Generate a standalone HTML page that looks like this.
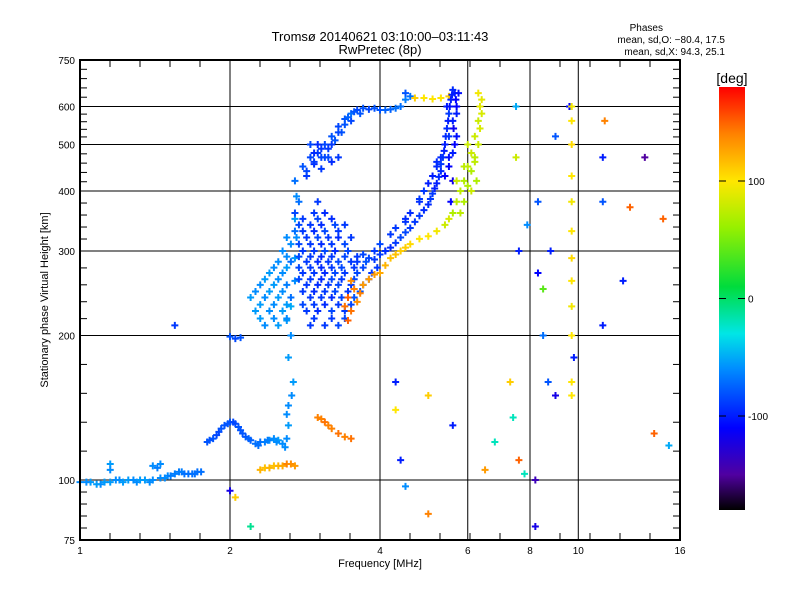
<!DOCTYPE html>
<html><head><meta charset="utf-8"><style>
body{margin:0;background:#fff;}
svg{display:block;font-family:"Liberation Sans","DejaVu Sans",sans-serif;}
</style></head><body>
<svg id="chart" width="800" height="600" viewBox="0 0 800 600">
<rect width="800" height="600" fill="#fff"/>
<text x="380" y="41" font-size="13" text-anchor="middle">Tromsø 20140621 03:10:00–03:11:43</text>
<text x="380" y="54" font-size="13" text-anchor="middle">RwPretec (8p)</text>
<text x="663" y="31" font-size="10" text-anchor="end">Phases</text>
<text x="725" y="43" font-size="10" text-anchor="end">mean, sd,O: −80.4, 17.5</text>
<text x="725" y="55" font-size="10" text-anchor="end">mean, sd,X:  94.3, 25.1</text>
<text transform="translate(48,300) rotate(-90)" font-size="11" text-anchor="middle">Stationary phase Virtual Height [km]</text>
<text x="380" y="567" font-size="11" text-anchor="middle">Frequency [MHz]</text>
<text x="732" y="83" font-size="14" text-anchor="middle">[deg]</text>
<g id="grid"></g><g id="marks"></g><g id="axes"></g><g id="cbar"></g>
</svg>
<script>
// ---- data ----
const xTicks=[1,2,4,6,8,10,16];
const xTickLabels=["1","2","4","6","8","10","16"];
const yTicks=[75,100,200,300,400,500,600,750];
const yGrid=[100,200,300,400,500,600];
const cbTicks=[100,0,-100];

const lowFreq=[1.0,1.05,1.1,1.15,1.2,1.25,1.3,1.35,1.4,1.45,1.5,1.55,1.6,1.65,1.7,1.75,1.15,1.15,1.4,1.43,1.45,1.03,1.08,1.12,1.18,1.22,1.28,1.32,1.38,1.48,1.52,1.58,1.62,1.68,1.72];
const lowHeight=[99,99,98,99,100,100,99,100,100,101,102,103,104,103,103,104,108,105,107,106,108,99,98,99,100,99,100,100,99,101,102,104,103,103,104];
const lowPhase=[-60,-55,-60,-55,-60,-55,-60,-55,-60,-60,-60,-65,-65,-70,-70,-70,-55,-60,-60,-65,-60,-60,-55,-55,-60,-55,-60,-55,-60,-60,-65,-65,-70,-70,-70];

const midFreq=[1.8,1.85,1.9,1.95,2.0,2.05,2.1,2.15,2.2,2.25,2.3,2.35,2.4,2.45,2.5,2.55,2.6,2.62,2.6,2.62,2.0,2.05,2.1,1.82,1.88,1.92,1.98,2.03,2.08,2.12,2.18,2.28,2.38,2.48,2.58];
const midHeight=[120,122,126,130,132,131,127,123,121,119,120,120,121,122,121,119,122,130,137,143,199,197,198,121,124,128,131,132,129,125,122,118,121,120,117];
const midPhase=[-80,-80,-85,-80,-80,-85,-80,-80,-75,-70,-70,-65,-60,-60,-55,-60,-60,-55,-60,-60,-80,-85,-80,-80,-85,-80,-80,-85,-80,-80,-75,-70,-65,-60,-60];

const orFreq=[2.3,2.35,2.4,2.45,2.5,2.55,2.6,2.65,2.7,3.0,3.05,3.1,3.15,3.2,3.3,3.4,3.5];
const orHeight=[105,106,106,107,107,107,108,108,107,135,134,132,130,128,125,123,122];
const orPhase=[120,115,120,115,120,125,140,135,130,140,140,145,140,140,145,140,145];

const colFreq=[2.62,2.65,2.6,2.65,2.7,2.7,2.72,2.7,2.72,2.7,2.68,2.66];
const colHeight=[180,200,215,230,260,290,320,350,390,420,160,150];
const colPhase=[-55,-60,-55,-50,-60,-55,-60,-55,-60,-70,-55,-60];

const blobFreq=[2.35,2.5,2.9,3.1,3.3, 2.25,2.4,2.55,2.85,3.0,3.2,3.4, 2.2,2.35,2.5,2.65,2.9,3.05,3.2,3.35,3.55, 2.3,2.45,2.6,2.85,3.0,3.15,3.3,3.5,3.7, 2.4,2.55,2.8,2.95,3.1,3.25,3.4,3.6,3.85, 2.5,2.65,2.85,3.0,3.15,3.3,3.5,3.75, 2.55,2.8,2.95,3.1,3.25,3.45, 2.6,2.85,3.0,3.15,3.3,3.5, 2.75,2.9,3.05,3.25,3.4, 2.7,2.95,3.1, 2.75,3.0];
const blobHeight=[210,210,210,210,210, 225,225,225,225,225,225,225, 240,240,240,240,240,240,240,240,240, 255,255,255,255,255,255,255,255,255, 270,270,270,270,270,270,270,270,270, 285,285,285,285,285,285,285,285, 300,300,300,300,300,300, 320,320,320,320,320,320, 340,340,340,340,340, 360,360,360, 380,380];
const blobPhase=[-60,-55,-90,-90,-85, -55,-60,-55,-90,-95,-85,-90, -55,-60,-55,-70,-90,-90,-95,-85,-80, -60,-55,-65,-90,-95,-90,-85,-90,-95, -55,-60,-90,-90,-95,-85,-90,-85,-90, -60,-70,-90,-95,-90,-85,-90,-80, -60,-90,-90,-85,-95,-85, -60,-90,-85,-90,-95,-90, -85,-90,-95,-85,-90, -85,-90,-95, -70,-90];

const blob2Freq=[2.3,2.45,2.6,2.95,3.2,3.4, 2.3,2.45,2.6,2.8,2.95,3.1,3.3,3.5, 2.25,2.4,2.55,2.8,2.95,3.1,3.25,3.45,3.65, 2.35,2.5,2.75,2.9,3.05,3.2,3.35,3.55,3.8, 2.45,2.6,2.75,2.9,3.05,3.2,3.35,3.55,3.7,3.95, 2.6,2.75,2.9,3.05,3.2,3.4,3.6, 2.65,2.75,2.9,3.05,3.2,3.4, 2.7,2.8,2.95,3.1,3.3, 2.8,3.0,3.2];
const blob2Height=[217,217,217,217,217,217, 232,232,232,232,232,232,232,232, 247,247,247,247,247,247,247,247,247, 262,262,262,262,262,262,262,262,262, 277,277,277,277,277,277,277,277,277,277, 292,292,292,292,292,292,292, 310,310,310,310,310,310, 330,330,330,330,330, 350,350,350];
const blob2Phase=[-55,-60,-60,-90,-90,-85, -55,-60,-55,-85,-90,-95,-90,-85, -60,-55,-60,-90,-95,-90,-85,-90,-80, -55,-60,-85,-90,-95,-85,-90,-85,-90, -60,-55,-85,-90,-95,-90,-85,-90,-85,-90, -60,-85,-90,-95,-90,-85,-90, -60,-85,-90,-95,-90,-85, -70,-90,-95,-85,-90, -90,-85,-95];

const upFreq=[2.8,2.9,3.0,3.1,3.2,3.3,3.4,3.5,3.6,3.7,3.8,4.0,4.2,4.4,4.5,4.6,4.5, 2.85,2.95,3.05,3.2,3.35,3.5,3.65, 2.95,3.05,3.15, 4.7,4.9,5.1,5.3,5.5, 2.85,2.95,3.0,3.1,3.15,3.25,3.3,3.4,3.45,3.55,3.9,4.1,4.3,3.2,3.3,2.9,3.05];
const upHeight=[450,470,480,500,520,545,565,580,590,595,592,590,592,600,620,630,640, 430,455,470,500,530,560,580, 480,490,470, 625,625,622,625,630, 440,460,500,470,490,510,530,550,570,585,595,590,595,460,470,500,445];
const upPhase=[-80,-85,-90,-85,-80,-85,-80,-70,-85,-80,-85,-80,-75,-70,-65,-70,-80, -90,-95,-85,-90,-80,-85,-80, -95,-90,-85, 110,100,100,100,110, -85,-90,-95,-85,-90,-80,-85,-80,-75,-80,-80,-75,-70,-95,-90,-85,-90];

const bandFreq=[3.6,3.8,4.0,4.2,4.4,4.6,4.8,5.0,5.1,5.2,5.3,5.35,5.4,5.45,5.5,5.55,5.6, 4.0,4.3,4.6,4.9,5.1,5.3,5.5,5.6,5.7,5.65,5.5,5.6,5.7, 3.9,4.1,4.5,4.8,5.2,5.45,5.6,5.55, 3.7,3.9,4.1,4.3,4.5,4.7,4.9,5.05,5.15,5.25,5.3,5.38,5.42,5.48,5.52,5.58,4.2,4.5,4.8,5.0,5.2,5.4,5.5,5.65,5.7,5.62,5.75,5.68];
const bandHeight=[285,290,295,305,320,335,355,375,395,415,440,470,500,540,580,620,650, 310,335,360,400,430,470,520,560,600,640,450,480,520, 300,300,345,380,460,600,420,380, 295,288,300,312,328,345,365,385,405,428,455,485,520,560,600,635,325,350,385,415,450,430,470,500,580,540,640,620];
const bandPhase=[-90,-85,-90,-95,-85,-90,-90,-95,-90,-100,-95,-90,-100,-95,-90,-100,-95, -85,-90,-95,-90,-100,-95,-90,-100,-110,-100,-110,-100,-105, -90,-85,-90,-95,-95,-100,-120,-110, -85,-90,-95,-90,-85,-90,-95,-90,-100,-95,-90,-100,-95,-100,-105,-100,-90,-95,-90,-100,-95,-110,-105,-110,-100,-115,-105,-110];

const yelFreq=[3.45,3.5,3.45,3.55,3.6,3.7,3.8,3.9,4.0,4.1,4.2,4.4,4.6,4.8,5.0,5.2,5.4,5.6,5.7,5.8,5.9,6.0,6.1,6.2,6.3,6.35,6.3,5.9,5.7,6.1,6.0,6.2,6.25, 5.9,6.0,6.1,6.2,6.3,6.35,6.4,6.4,5.8,5.5,4.5,4.3,3.65,3.5,3.4];
const yelHeight=[215,225,240,250,235,255,262,268,270,280,290,300,310,318,322,330,340,360,380,400,420,450,480,520,560,600,640,380,420,440,500,470,420, 450,410,400,460,500,540,580,620,360,350,305,295,245,260,230];
const yelPhase=[150,145,150,140,135,130,130,130,125,120,115,110,105,100,100,95,80,70,75,75,70,75,80,80,80,90,95,70,80,70,80,75,70, 75,70,80,75,80,85,85,90,75,85,110,115,140,135,145];

const noiseFreq=[1.55,2.0,2.05,2.2,4.3,4.3,4.4,4.5,5.0,5.0,5.6,6.5,6.8,7.3,7.4,7.6,7.8,8.2,8.2,8.5,8.5,8.8,9.0,9.6,9.8,11.2,11.2,11.3,11.2,12.3,12.7,13.6,14.2,14.8,15.2,7.6,7.5,7.5,8.3,8.3,9.0,8.7,7.9,9.7,9.7,9.7,9.7,9.7,9.7,9.7,9.7,9.7,9.7,9.7,9.7];
const noiseHeight=[210,95,92,80,160,140,110,97,150,85,130,105,120,160,135,110,103,100,80,200,250,300,150,600,180,210,470,560,380,260,370,470,125,350,118,300,470,600,380,270,520,160,340,200,230,260,290,330,380,430,500,560,600,160,150];
const noisePhase=[-90,-120,110,-10,-100,100,-100,-60,110,140,-100,130,-20,110,-20,150,-20,-140,-120,-70,40,-100,-120,-110,-100,-100,-100,140,-80,-100,150,-150,150,150,-50,-100,80,-50,-80,-110,-80,-80,-60,100,95,100,105,100,95,100,105,100,95,100,100];

const series=[[lowFreq,lowHeight,lowPhase],[midFreq,midHeight,midPhase],[orFreq,orHeight,orPhase],[colFreq,colHeight,colPhase],[blobFreq,blobHeight,blobPhase],[blob2Freq,blob2Height,blob2Phase],[upFreq,upHeight,upPhase],[bandFreq,bandHeight,bandPhase],[yelFreq,yelHeight,yelPhase],[noiseFreq,noiseHeight,noisePhase]];

// ---- scales ----
const X0=80,X1=680,Y0=60,Y1=540;
const xs=f=>X0+(X1-X0)*Math.log(f)/Math.log(16);
const ys=h=>Y1-(Y1-Y0)*Math.log10(h/75);
const cbTop=87,cbBot=510;
const cs=v=>cbBot-(cbBot-cbTop)*(v+180)/360;
const stops=[[-180,[0,0,0]],[-150,[80,0,160]],[-110,[0,0,255]],[-60,[0,140,255]],[-30,[0,230,230]],[10,[0,220,60]],[60,[150,240,0]],[100,[255,230,0]],[140,[255,130,0]],[180,[255,0,0]]];
function col(v){for(let i=1;i<stops.length;i++){if(v<=stops[i][0]){const a=stops[i-1],b=stops[i],t=(v-a[0])/(b[0]-a[0]);return 'rgb('+a[1].map((c,k)=>Math.round(c+(b[1][k]-c)*t)).join(',')+')';}}return 'rgb(255,0,0)';}
const NS='http://www.w3.org/2000/svg';
function mk(tag,attrs,parent){const e=document.createElementNS(NS,tag);for(const k in attrs)e.setAttribute(k,attrs[k]);parent.appendChild(e);return e;}

const grid=document.getElementById('grid'),axes=document.getElementById('axes'),marks=document.getElementById('marks'),cbar=document.getElementById('cbar');
[2,4,6,8,10].forEach(f=>{const l=mk('line',{x1:xs(f),x2:xs(f),y1:Y0,y2:Y1,stroke:'#000','stroke-width':1},grid);

});
yGrid.forEach(h=>{const l=mk('line',{x1:X0,x2:X1,y1:ys(h),y2:ys(h),stroke:'#000','stroke-width':1},grid);

});
series.forEach(s=>{const [F,H,P]=s;for(let i=0;i<F.length;i++){const x=xs(F[i]),y=ys(H[i]),c=col(P[i]);
const g=mk('path',{d:`M${x-3.5} ${y}h7M${x} ${y-3.5}v7`,stroke:c,'stroke-width':2,fill:'none'},marks);

}});
const fr=mk('rect',{x:X0,y:Y0,width:X1-X0,height:Y1-Y0,fill:'none',stroke:'#000','stroke-width':2},axes);


for(let i=0;i<4;i++){for(let k=1;k<5;k++){const x=X0+i*150+k*30;mk('line',{x1:x,x2:x,y1:Y1,y2:Y1-7,stroke:'#000'},axes);mk('line',{x1:x,x2:x,y1:Y0,y2:Y0+7,stroke:'#000'},axes);}}
for(let i=0;i<yTicks.length-1;i++){const a=ys(yTicks[i]),b=ys(yTicks[i+1]);for(let k=1;k<5;k++){const y=a+(b-a)*k/5;mk('line',{x1:X0,x2:X0+7,y1:y,y2:y,stroke:'#000'},axes);mk('line',{x1:X1,x2:X1-7,y1:y,y2:y,stroke:'#000'},axes);}}
xTicks.forEach((f,i)=>{const t=mk('text',{x:xs(f),y:554,'font-size':10,'text-anchor':'middle'},axes);t.textContent=xTickLabels[i];

});
yTicks.forEach(h=>{const t=mk('text',{x:X0-5,y:ys(h)+4,'font-size':10,'text-anchor':'end'},axes);t.textContent=String(h);

});
const defs=mk('defs',{},cbar);const lg=mk('linearGradient',{id:'cg',x1:0,y1:1,x2:0,y2:0},defs);
for(let v=-180;v<=180;v+=10){mk('stop',{offset:((v+180)/360).toFixed(3),'stop-color':col(v)},lg);}
const cr=mk('rect',{x:719,y:cbTop,width:26,height:cbBot-cbTop,fill:'url(#cg)'},cbar);


cbTicks.forEach(v=>{const y=cs(v);mk('line',{x1:719,x2:726,y1:y,y2:y,stroke:'#000'},cbar);mk('line',{x1:738,x2:745,y1:y,y2:y,stroke:'#000'},cbar);
const t=mk('text',{x:748,y:y+4,'font-size':10},cbar);t.textContent=String(v);

});
</script>
</body></html>
